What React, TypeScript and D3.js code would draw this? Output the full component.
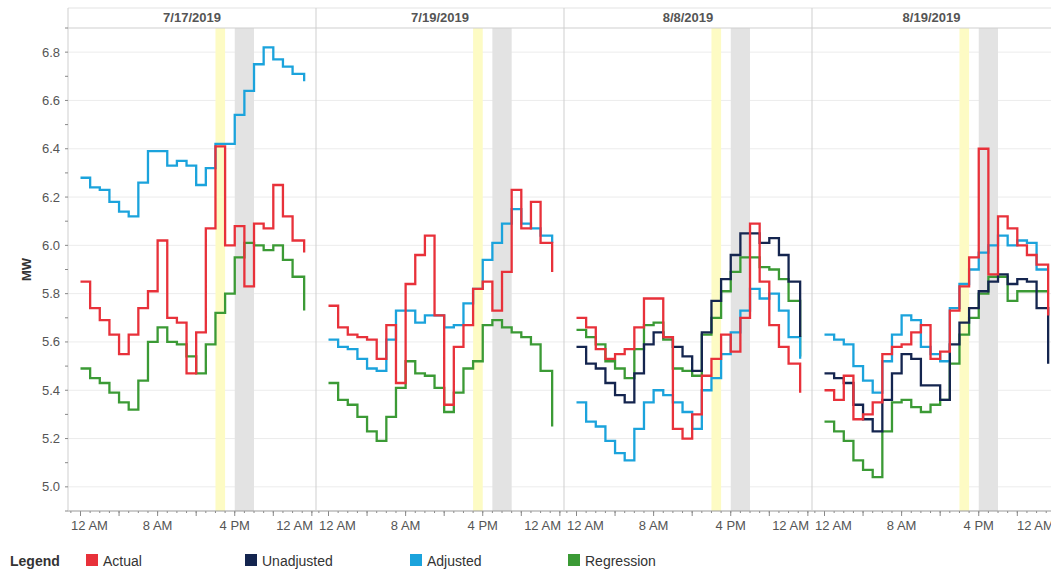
import * as d3 from "d3";

const dates = ["7/17/2019", "7/19/2019", "8/8/2019", "8/19/2019"];

// 24 hourly values (0..23); the last one closes the final hour
const actual = [
  [5.85, 5.74, 5.69, 5.63, 5.55, 5.63, 5.74, 5.81, 6.02, 5.7, 5.68, 5.47, 5.64, 6.07, 6.41, 6.0, 6.08, 5.83, 6.09, 6.07, 6.25, 6.12, 6.02, 5.97],
  [5.75, 5.66, 5.63, 5.62, 5.61, 5.53, 5.67, 5.43, 5.84, 5.96, 6.04, 5.71, 5.34, 5.58, 5.67, 5.82, 5.85, 5.73, 5.89, 6.23, 6.07, 6.18, 6.01, 5.89],
  [5.7, 5.66, 5.57, 5.53, 5.55, 5.57, 5.66, 5.78, 5.78, 5.62, 5.24, 5.2, 5.3, 5.46, 5.53, 5.63, 5.56, 5.7, 6.09, 5.85, 5.67, 5.58, 5.51, 5.39],
  [5.4, 5.36, 5.46, 5.28, 5.3, 5.35, 5.55, 5.58, 5.59, 5.64, 5.67, 5.53, 5.56, 5.73, 5.83, 5.95, 6.4, 5.88, 6.12, 6.07, 6.0, 5.96, 5.92, 5.71],
];
const unadjusted = [
  null,
  null,
  [5.58, 5.51, 5.49, 5.43, 5.38, 5.35, 5.47, 5.59, 5.64, 5.62, 5.58, 5.54, 5.48, 5.64, 5.77, 5.86, 5.96, 6.05, 6.05, 6.01, 6.03, 5.96, 5.85, 5.62],
  [5.47, 5.45, 5.43, 5.34, 5.28, 5.23, 5.36, 5.47, 5.55, 5.53, 5.42, 5.42, 5.36, 5.59, 5.68, 5.74, 5.81, 5.85, 5.88, 5.84, 5.86, 5.85, 5.74, 5.51],
];
const adjusted = [
  [6.28, 6.24, 6.23, 6.18, 6.14, 6.12, 6.26, 6.39, 6.39, 6.33, 6.35, 6.33, 6.25, 6.32, 6.42, 6.42, 6.54, 6.64, 6.75, 6.82, 6.77, 6.74, 6.71, 6.68],
  [5.61, 5.58, 5.57, 5.53, 5.49, 5.48, 5.61, 5.73, 5.73, 5.68, 5.71, 5.71, 5.66, 5.67, 5.76, 5.82, 5.94, 6.01, 6.09, 6.15, 6.09, 6.07, 6.04, 6.01],
  [5.35, 5.27, 5.25, 5.19, 5.14, 5.11, 5.24, 5.35, 5.4, 5.38, 5.35, 5.31, 5.24, 5.4, 5.45, 5.55, 5.64, 5.73, 5.82, 5.78, 5.8, 5.73, 5.62, 5.53],
  [5.63, 5.61, 5.59, 5.5, 5.44, 5.39, 5.52, 5.63, 5.71, 5.69, 5.58, 5.55, 5.52, 5.74, 5.84, 5.9, 5.97, 6.0, 6.04, 6.0, 6.02, 6.01, 5.9, 5.9],
];
const regression = [
  [5.49, 5.45, 5.43, 5.39, 5.35, 5.32, 5.44, 5.6, 5.66, 5.6, 5.59, 5.54, 5.47, 5.59, 5.72, 5.8, 5.95, 6.01, 6.0, 5.98, 6.0, 5.94, 5.87, 5.73],
  [5.43, 5.36, 5.34, 5.29, 5.23, 5.19, 5.29, 5.41, 5.52, 5.47, 5.46, 5.41, 5.31, 5.39, 5.49, 5.52, 5.67, 5.69, 5.66, 5.64, 5.62, 5.59, 5.48, 5.25],
  [5.65, 5.62, 5.59, 5.52, 5.49, 5.45, 5.57, 5.67, 5.68, 5.61, 5.49, 5.48, 5.46, 5.63, 5.7, 5.81, 5.89, 5.95, 5.95, 5.91, 5.9, 5.86, 5.77, 5.54],
  [5.27, 5.23, 5.19, 5.11, 5.07, 5.04, 5.23, 5.35, 5.36, 5.33, 5.31, 5.34, 5.36, 5.51, 5.63, 5.7, 5.8, 5.87, 5.87, 5.77, 5.81, 5.81, 5.81, 5.81],
];
const yTicks = [5.0, 5.2, 5.4, 5.6, 5.8, 6.0, 6.2, 6.4, 6.6, 6.8];
const xTickLabels = ["12 AM", "8 AM", "4 PM", "12 AM"];
const yellowBands = [[14, 15], [15, 16], [14, 15], [14, 15]];
const grayBands = [[16, 18], [17, 19], [16, 18], [16, 18]];

const seriesDefs = [
  { name: "Actual", color: "#e8313a", data: actual },
  { name: "Unadjusted", color: "#14254f", data: unadjusted },
  { name: "Adjusted", color: "#1ba3dc", data: adjusted },
  { name: "Regression", color: "#3b9a35", data: regression },
];
const lineOrder = [3, 2, 1, 0];

const font = "'Liberation Sans', Arial, sans-serif";

export default function App() {
  const W = 1051;
  const H = 569;
  const top = 28;
  const headTop = 8;
  const bottom = 511;
  const left = 68;
  const paneEdges = [68, 316, 564, 812, 1060];

  const y = d3.scaleLinear().domain([4.9, 6.9]).range([bottom, top]);

  return (
    <svg width={W} height={H} style={{ position: "absolute", left: 0, top: 0, fontFamily: font }}>
      <rect width={W} height={H} fill="#fff" />
      <defs>
        {dates.map((_, p) => (
          <clipPath id={`clip${p}`} key={p}>
            <rect x={paneEdges[p]} y={top} width={Math.min(paneEdges[p + 1], W) - paneEdges[p]} height={bottom - top} />
          </clipPath>
        ))}
      </defs>
      {yTicks.map((t) => (
        <line key={t} x1={left} x2={W} y1={y(t)} y2={y(t)} stroke="#ececec" />
      ))}
      {dates.map((d, p) => {
        const x0 = paneEdges[p];
        const xEnd = Math.min(paneEdges[p + 1], W);
        const x = d3.scaleLinear().domain([0, 24]).range([x0 + 12.5, x0 + 12.5 + 24 * 9.64]);
        // hourly steps; last value is a closing drop at the end of hour 23
        const pathFor = (vals: number[]) => {
          const pts: [number, number][] = vals.slice(0, 23).map((v, i) => [i, v]);
          pts.push([23.2, vals[22]]);
          const stepped = d3.line().x((q) => x(q[0])).y((q) => y(q[1])).curve(d3.curveStepAfter)(pts) || "";
          return stepped + `L${x(23.2)},${y(vals[23])}`;
        };
        const majors = d3.range(0, 25, 4);
        const minors = d3.range(-1, 25, 1);
        const yb = yellowBands[p];
        const gb = grayBands[p];
        return (
          <g key={d}>
            <g clipPath={`url(#clip${p})`}>
              <rect x={x(yb[0])} width={x(yb[1]) - x(yb[0])} y={top} height={bottom - top} fill="#fdfbc4" />
              <rect x={x(gb[0])} width={x(gb[1]) - x(gb[0])} y={top} height={bottom - top} fill="#e3e3e3" />
              {lineOrder.map((s) => {
                const vals = seriesDefs[s].data[p];
                if (!vals) return null;
                return <path key={s} d={pathFor(vals)} fill="none" stroke={seriesDefs[s].color} strokeWidth={2.3} />;
              })}
            </g>
            <text x={(x0 + xEnd) / 2} y={22} textAnchor="middle" fontSize={13} fontWeight="bold" fill="#555">
              {d}
            </text>
            {minors.map((h) =>
              x(h) < xEnd && x(h) > x0 ? (
                <line key={"m" + h} x1={x(h)} x2={x(h)} y1={bottom} y2={bottom + 2} stroke="#888" />
              ) : null
            )}
            {majors.map((h) =>
              x(h) < xEnd ? <line key={"M" + h} x1={x(h)} x2={x(h)} y1={bottom} y2={bottom + 5} stroke="#888" /> : null
            )}
            {xTickLabels.map((lab, i) => {
              if (i < 3)
                return (
                  <text key={i} x={x(i * 8) + (i === 0 ? 9 : 0)} y={530} textAnchor="middle" fontSize={13} fill="#555">
                    {lab}
                  </text>
                );
              return (
                <text key={i} x={p < 3 ? xEnd - 3 : 1017} y={530} textAnchor={p < 3 ? "end" : "start"} fontSize={13} fill="#555">
                  {lab}
                </text>
              );
            })}
          </g>
        );
      })}
      <line x1={left} x2={W} y1={top} y2={top} stroke="#cfcfcf" />
      <line x1={left} x2={W} y1={headTop} y2={headTop} stroke="#e3e3e3" />
      <line x1={left} x2={W} y1={bottom} y2={bottom} stroke="#999" />
      {paneEdges.slice(0, 4).map((e) => (
        <line key={e} x1={e} x2={e} y1={headTop} y2={bottom} stroke="#cfcfcf" />
      ))}
      {d3.range(4.9, 6.95, 0.1).map((t) => (
        <line key={t} x1={left - 3} x2={left} y1={y(t)} y2={y(t)} stroke="#888" />
      ))}
      {yTicks.map((t) => (
        <text key={t} x={60} y={y(t) + 4.5} textAnchor="end" fontSize={13} fill="#555">
          {t.toFixed(1)}
        </text>
      ))}
      <text transform={`translate(31,${y(5.9)}) rotate(-90)`} textAnchor="middle" fontSize={13} fontWeight="bold" fill="#333">
        MW
      </text>
      <text x={10} y={566} fontSize={14} fontWeight="bold" fill="#333">
        Legend
      </text>
      {seriesDefs.map((s, i) => {
        const lx = [86, 245, 410, 568][i];
        return (
          <g key={s.name}>
            <rect x={lx} y={554} width={12} height={12} fill={s.color} />
            <text x={lx + 17} y={566} fontSize={14} fill="#333">
              {s.name}
            </text>
          </g>
        );
      })}
    </svg>
  );
}
